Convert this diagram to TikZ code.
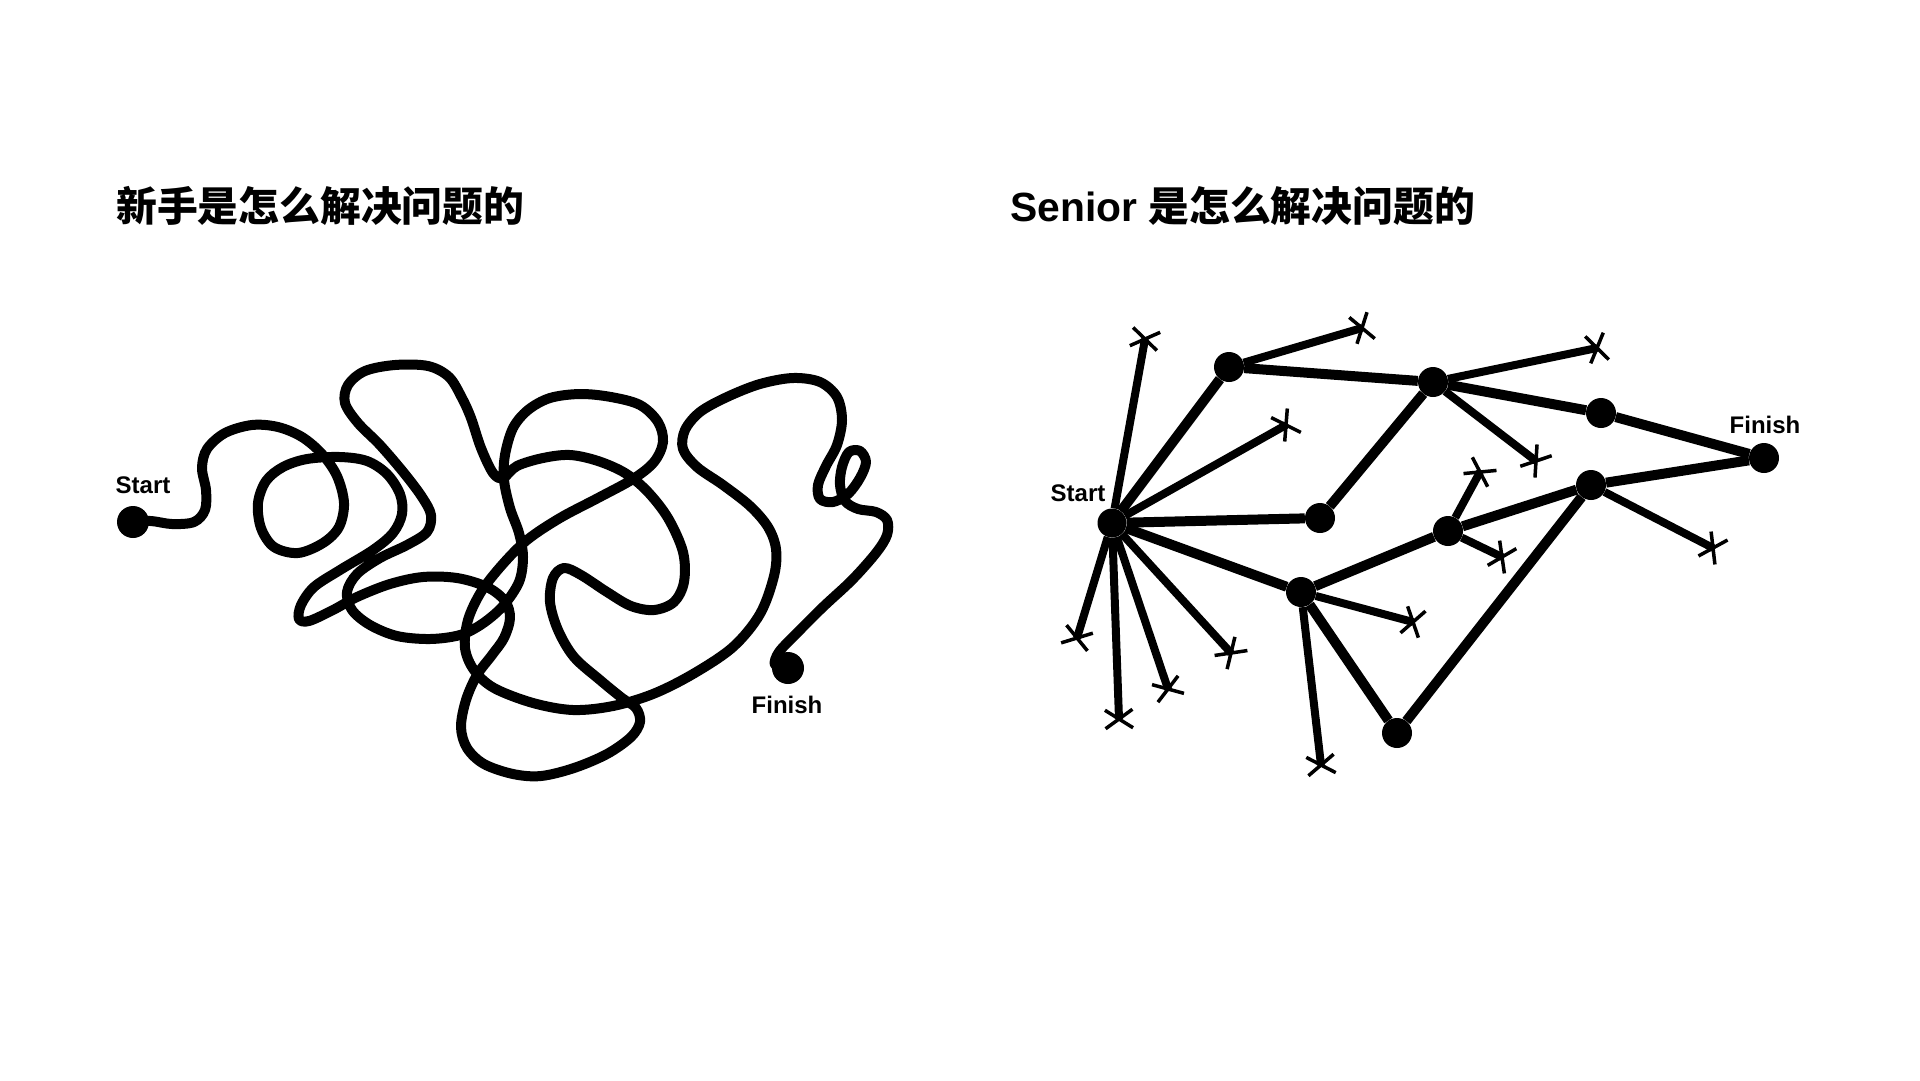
\documentclass[tikz,border=0pt]{standalone}
\usepackage{fontspec}
\setmainfont{Liberation Sans}
\newfontfamily\cjk{Noto Sans CJK SC}
\usetikzlibrary{shapes.misc}
\begin{document}
\begin{tikzpicture}[x=1pt,y=-1pt,
  squig/.style={line width=10pt, line cap=round, line join=round},
  bigdot/.style={circle, fill=black, inner sep=0pt, minimum size=32pt},
  gdot/.style={circle, fill=black, inner sep=0pt, minimum size=30pt},
  mainedge/.style={line width=10pt},
  deadedge/.style={line width=8pt},
  xmark/.style={draw, cross out, line width=3.5pt, inner sep=0pt, minimum width=15pt, minimum height=24pt, sloped},
  lbl/.style={font=\bfseries\fontsize{24}{24}\selectfont, inner sep=0pt},
  title/.style={font=\bfseries\fontsize{40.8}{42}\selectfont, anchor=west, inner sep=0pt}]
\fill[white] (0,0) rectangle (1920,1080);
\useasboundingbox (0,0) rectangle (1920,1080);

% titles
\node[title] (t1) at (116,206) {{\cjk 新手是怎么解决问题的}};
\node[title] (t2) at (1010,206) {Senior {\cjk 是怎么解决问题的}};

% ---------- left: novice squiggle ----------
\node[bigdot] (ls) at (133,522) {};
\node[bigdot] (lf) at (788,668) {};
\node[lbl] (lsl) at (143,485) {Start};
\node[lbl] (lfl) at (787,705) {Finish};
\draw[squig] plot[smooth, tension=0.55] coordinates {
(133,522) (151,521) (172,524) (194,522) (205,510) (206,490) (202,468) (207,449)
(225,433) (252,425) (278,427) (302,437) (322,454) (337,476) (344,503) (339,527)
(323,543) (298,553) (274,547) (261,528) (258,503) (266,481) (283,467) (307,459)
(340,457) (367,461) (387,474) (400,494) (402,514) (393,533) (373,550) (340,570)
(314,587) (301,605) (299,619) (309,621) (333,610) (357,597) (390,584) (423,577)
(457,578) (487,587) (505,601) (510,618) (504,638) (492,655) (477,675) (466,700)
(461,727) (467,748) (484,764) (513,774) (541,776) (574,768) (607,754) (631,737)
(640,722) (636,708) (622,698) (600,680) (574,657) (558,630) (550,602) (553,578)
(564,568) (581,575) (607,592) (631,606) (654,610) (674,602) (684,582) (683,552)
(668,518) (647,491) (625,473) (598,461) (570,455) (543,458) (517,466) (503,478)
(493,473) (481,448) (471,418) (462,398) (449,377) (428,366) (395,365) (365,371)
(348,385) (345,403) (358,423) (380,445) (404,473) (422,497) (431,515) (427,532)
(407,545) (380,558) (357,574) (347,592) (352,610) (370,625) (397,636) (430,639)
(460,635) (482,624) (503,606) (519,582) (523,557) (519,533) (510,508) (504,480)
(505,455) (513,428) (528,410) (550,398) (580,394) (611,397) (640,405) (658,422)
(663,442) (654,462) (633,479) (598,498) (560,518) (527,540) (502,565) (481,592)
(468,620) (465,648) (474,670) (494,688) (533,703) (573,710) (613,706) (653,694)
(693,674) (733,647) (760,614) (774,576) (776,549) (768,527) (750,506) (723,485)
(697,467) (683,449) (685,430) (700,412) (727,397) (760,384) (793,378) (820,382)
(837,397) (842,420) (837,445) (826,466) (818,485) (820,499) (833,502) (848,494)
(860,478) (866,462) (860,451) (849,452) (842,467) (840,485) (845,501) (858,509)
(876,512) (887,520) (887,535) (876,553) (852,580) (823,607) (797,633) (779,652)
(775,665) (788,668)};

% ---------- right: senior graph ----------
\node[gdot, minimum size=29pt] (hub) at (1112,523) {};
\node[gdot] (n1) at (1229,367) {};
\node[gdot] (n2) at (1433,382) {};
\node[gdot] (n3) at (1601,413) {};
\node[gdot] (fin) at (1764,458) {};
\node[gdot] (n4) at (1320,518) {};
\node[gdot] (n5) at (1448,531) {};
\node[gdot] (n6) at (1591,485) {};
\node[gdot] (n7) at (1301,592) {};
\node[gdot] (n8) at (1397,733) {};
\node[lbl] (rsl) at (1078,493) {Start};
\node[lbl] (rfl) at (1765,425) {Finish};

\coordinate (e1) at (1145,339);
\coordinate (e2) at (1362,328);
\coordinate (e3) at (1286,425);
\coordinate (e4) at (1597,348);
\coordinate (e5) at (1536,461);
\coordinate (e6) at (1480,472);
\coordinate (e7) at (1502,557);
\coordinate (e8) at (1713,548);
\coordinate (e9) at (1413,622);
\coordinate (e10) at (1321,765);
\coordinate (e11) at (1077,638);
\coordinate (e12) at (1119,719);
\coordinate (e13) at (1168,689);
\coordinate (e14) at (1231,653);

% main edges
\draw[mainedge] (hub) -- (n1);
\draw[mainedge] (n1) -- (n2);
\draw[mainedge] (n2) -- (n3);
\draw[mainedge] (n3) -- (fin);
\draw[mainedge] (hub) -- (n4);
\draw[mainedge] (n4) -- (n2);
\draw[mainedge] (hub) -- (n7);
\draw[mainedge] (n7) -- (n5);
\draw[mainedge] (n5) -- (n6);
\draw[mainedge] (n6) -- (fin);
\draw[mainedge] (n7) -- (n8);
\draw[mainedge] (n8) -- (n6);

% dead ends
\draw[deadedge] (hub) -- node[xmark, pos=1] {} (e1);
\draw[deadedge] (n1) -- node[xmark, pos=1] {} (e2);
\draw[deadedge] (hub) -- node[xmark, pos=1] {} (e3);
\draw[deadedge] (n2) -- node[xmark, pos=1] {} (e4);
\draw[deadedge] (n2) -- node[xmark, pos=1] {} (e5);
\draw[deadedge] (n5) -- node[xmark, pos=1] {} (e6);
\draw[deadedge] (n5) -- node[xmark, pos=1] {} (e7);
\draw[deadedge] (n6) -- node[xmark, pos=1] {} (e8);
\draw[deadedge] (n7) -- node[xmark, pos=1] {} (e9);
\draw[deadedge] (n7) -- node[xmark, pos=1] {} (e10);
\draw[deadedge] (hub) -- node[xmark, pos=1] {} (e11);
\draw[deadedge] (hub) -- node[xmark, pos=1] {} (e12);
\draw[deadedge] (hub) -- node[xmark, pos=1] {} (e13);
\draw[deadedge] (hub) -- node[xmark, pos=1] {} (e14);
\end{tikzpicture}
\end{document}
